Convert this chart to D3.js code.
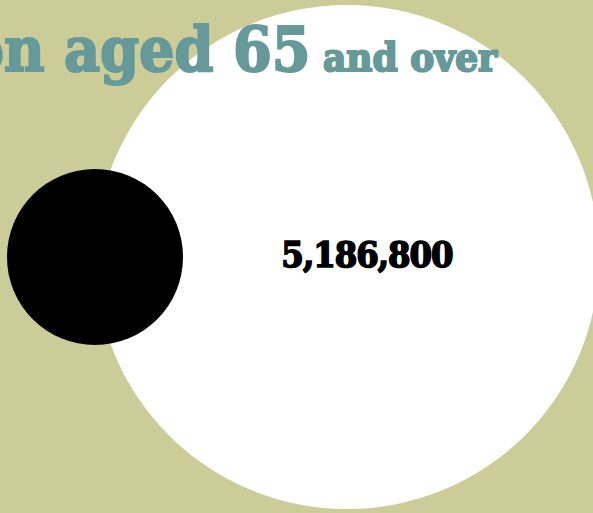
<!DOCTYPE html>
<html><head><meta charset="utf-8">
<script src="https://cdn.jsdelivr.net/npm/d3@7"></script>
<style>
html,body{margin:0;padding:0;background:#cccc99;overflow:hidden;}
svg{display:block;}
</style></head>
<body>
<script>
const categories = ["Aged 85 and over", "Population aged 65 and over"];
const values = [632500, 5186800];
const valueLabels = ["", "5,186,800"];
const titleMain = "Population aged 65";
const titleSub = " and over";

const W = 593, H = 513;
const svg = d3.select("body").append("svg").attr("width", W).attr("height", H);
svg.append("rect").attr("width", W).attr("height", H).attr("fill", "#cccc99");

const r = d3.scaleSqrt().domain([0, d3.max(values)]).range([0, 252]);
const x = d3.scalePoint().domain(categories).range([95, 347]);
const cy = 257;
const colors = d3.scaleOrdinal().domain(categories).range(["#000000", "#ffffff"]);

const data = categories.map((c, i) => ({c, v: values[i], label: valueLabels[i]}));

svg.selectAll("circle").data(data.slice().sort((a,b)=>b.v-a.v)).join("circle")
  .attr("cx", d => x(d.c)).attr("cy", cy).attr("r", d => r(d.v))
  .attr("fill", d => colors(d.c));

const font = "'DejaVu Serif Condensed','DejaVu Serif',serif";

svg.selectAll("text.val").data(data.filter(d => d.label)).join("text")
  .attr("class","val")
  .attr("x", d => x(d.c) + 20).attr("y", cy + 10)
  .attr("text-anchor","middle")
  .attr("font-family", font).attr("font-weight","bold")
  .attr("font-size", 36).attr("letter-spacing", -1)
  .attr("fill","#000").attr("stroke","#000").attr("stroke-width",1.6)
  .text(d => d.label);

const t = svg.append("text").attr("x", 497).attr("y", 71)
  .attr("text-anchor","end").attr("font-family", font).attr("font-weight","bold")
  .attr("fill","#669999").attr("stroke","#669999").attr("stroke-width",2);
t.append("tspan").attr("font-size", 62).text(titleMain);
t.append("tspan").attr("font-size", 40).text(titleSub);
</script>
</body></html>
